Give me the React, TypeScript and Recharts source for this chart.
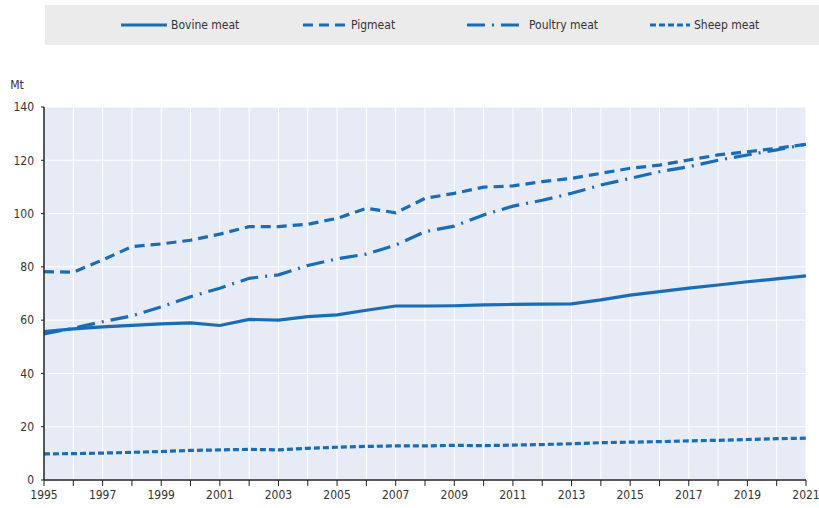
import { CartesianGrid, Legend, Line, LineChart, XAxis, YAxis } from "recharts";

const years = [
  1995, 1996, 1997, 1998, 1999, 2000, 2001, 2002, 2003, 2004, 2005, 2006, 2007, 2008,
  2009, 2010, 2011, 2012, 2013, 2014, 2015, 2016, 2017, 2018, 2019, 2020, 2021,
];
const bovine = [
  55.7, 56.7, 57.5, 58, 58.6, 59, 58, 60.3, 60, 61.3, 62, 63.7, 65.3, 65.3, 65.4, 65.7,
  65.9, 66, 66.1, 67.6, 69.4, 70.7, 72, 73.2, 74.4, 75.5, 76.6,
];
const pigmeat = [
  78.2, 78, 82.6, 87.6, 88.6, 90, 92.3, 95.1, 95.1, 96, 98.2, 102, 100.3, 105.7, 107.6,
  109.9, 110.4, 112, 113.2, 115.1, 117, 118.2, 120.1, 122, 123.2, 124.5, 126,
];
const poultry = [
  54.8, 57, 59.4, 61.6, 65, 68.8, 72, 75.7, 77, 80.5, 83, 84.8, 88.2, 93.2, 95.3, 99.5,
  102.8, 105, 107.6, 110.7, 113.2, 115.7, 117.6, 120, 122, 123.9, 126,
];
const sheep = [
  9.8, 9.9, 10.1, 10.4, 10.7, 11.1, 11.3, 11.5, 11.3, 11.9, 12.3, 12.6, 12.8, 12.8, 13.0,
  12.9, 13.1, 13.3, 13.6, 14.0, 14.2, 14.4, 14.7, 14.9, 15.2, 15.5, 15.7,
];
const yTicks = [0, 20, 40, 60, 80, 100, 120, 140];

const data = years.map((year, i) => ({
  year,
  bovine: bovine[i],
  pigmeat: pigmeat[i],
  poultry: poultry[i],
  sheep: sheep[i],
}));

const BLUE = "#1a6db5";
const FONT = "'Liberation Sans Narrow', 'Arial Narrow', 'DejaVu Sans Condensed', sans-serif";

const series = [
  { key: "bovine", name: "Bovine meat", dash: undefined as string | undefined, left: 76, lineW: 46 },
  { key: "pigmeat", name: "Pigmeat", dash: "10 6", left: 258, lineW: 44 },
  { key: "poultry", name: "Poultry meat", dash: "18 7 2 7", left: 422, lineW: 58 },
  { key: "sheep", name: "Sheep meat", dash: "6 3", left: 605, lineW: 40 },
];

function LegendBox() {
  return (
    <div style={{ position: "relative", width: 774, height: 40, background: "#ebebeb" }}>
      {series.map((s) => (
        <div
          key={s.key}
          style={{
            position: "absolute",
            left: s.left,
            top: 0,
            height: 40,
            display: "flex",
            alignItems: "center",
            fontFamily: FONT,
            fontSize: 12,
            color: "#333",
          }}
        >
          <svg width={s.lineW + 4} height={10}>
            <line
              x1={0}
              y1={5}
              x2={s.lineW}
              y2={5}
              stroke={BLUE}
              strokeWidth={3}
              strokeDasharray={s.dash}
            />
          </svg>
          <span>{s.name}</span>
        </div>
      ))}
    </div>
  );
}

export default function App() {
  return (
    <div style={{ position: "absolute", left: 0, top: 0, width: 819, height: 508, background: "#fff" }}>
      <LineChart width={819} height={508} data={data} margin={{ top: 67, right: 13, bottom: 0, left: 0 }}>
        <CartesianGrid fill="#e6ebf5" stroke="#ffffff" strokeWidth={1} />
        <Legend
          verticalAlign="top"
          content={() => <LegendBox />}
          wrapperStyle={{ top: 5, left: 45, width: 774, height: 40 }}
        />
        <XAxis
          dataKey="year"
          type="number"
          domain={[1995, 2021]}
          ticks={years}
          interval={0}
          tickFormatter={(v: number) => ((v - 1995) % 2 === 0 ? String(v) : "")}
          tick={{ fontSize: 12, fill: "#333", fontFamily: FONT }}
          axisLine={{ stroke: "#222", strokeWidth: 1.5 }}
          tickLine={{ stroke: "#222" }}
          tickSize={6}
          tickMargin={4}
          height={28}
        />
        <YAxis
          domain={[0, 140]}
          ticks={yTicks}
          interval={0}
          width={44}
          tick={{ fontSize: 12, fill: "#333", fontFamily: FONT }}
          axisLine={{ stroke: "#222", strokeWidth: 1.5 }}
          tickLine={{ stroke: "#222" }}
          tickSize={3}
          tickMargin={7}
          label={{ value: "Mt", position: "top", offset: 18, dx: -5, fontSize: 12, fill: "#333", fontFamily: FONT }}
        />
        {series.map((s) => (
          <Line
            key={s.key}
            type="linear"
            dataKey={s.key}
            name={s.name}
            stroke={BLUE}
            strokeWidth={3.2}
            strokeDasharray={s.dash}
            dot={false}
            isAnimationActive={false}
          />
        ))}
      </LineChart>
    </div>
  );
}
